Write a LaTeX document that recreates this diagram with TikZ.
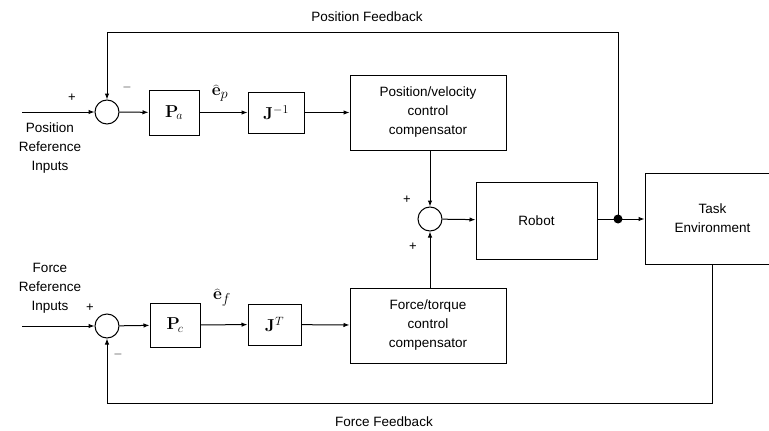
\documentclass[tikz,border=0pt]{standalone}
\usepackage[no-math]{fontspec}
\setmainfont{Liberation Sans}
\usetikzlibrary{arrows.meta}
\begin{document}
\begin{tikzpicture}[x=1pt,y=-1pt,
  font=\fontsize{13.5}{19}\selectfont,
  ln/.style={line width=1pt},
  blk/.style={draw, line width=1pt, inner sep=0pt, align=center},
  mth/.style={font=\fontsize{17}{20}\selectfont},
  sumj/.style={draw, circle, line width=1pt, minimum size=24pt, inner sep=0pt},
  conn/.style={line width=1pt, -{Latex[length=6pt,width=4.5pt]}},
  sgn/.style={font=\fontsize{13}{13}\selectfont, inner sep=0pt}]
\clip (0,0) rectangle (769,431);
\fill[white] (0,0) rectangle (769,431);

% nodes
\node[sumj] (s1) at (107,112) {};
\node[blk, mth, minimum width=50pt, minimum height=45pt] (pa) at (174,112.5) {$\mathbf{P}_{\!a}$};
\node[blk, mth, minimum width=56pt, minimum height=41pt] (ja) at (276,112.5) {$\mathbf{J}^{-1}$};
\node[blk, minimum width=156pt, minimum height=75pt] (pv) at (428,112.5) {Position/velocity\\control\\compensator};
\node[sumj] (s2) at (430,219) {};
\node[blk, minimum width=121pt, minimum height=77pt] (rob) at (536.5,220.5) {Robot};
\node[blk, minimum width=135pt, minimum height=91pt] (task) at (712.5,218.5) {Task\\Environment};
\node[blk, minimum width=156pt, minimum height=75pt] (ft) at (428,325.5) {Force/torque\\control\\compensator};
\node[sumj] (s3) at (107,326) {};
\node[blk, mth, minimum width=50pt, minimum height=44pt] (pc) at (175,325) {$\mathbf{P}_{\!c}$};
\node[blk, mth, minimum width=53pt, minimum height=41pt] (jt) at (274.5,324.5) {$\mathbf{J}^{T}$};

\coordinate (in1) at (22,112);
\coordinate (in3) at (22,326);
\fill (618,219) circle (4.5pt);
\coordinate (dot) at (618,219);
\coordinate (tl) at (107,32);
\coordinate (tr) at (618,32);
\coordinate (bl) at (107,403);

% labels
\node at (50,148) [align=center] {Position\\Reference\\Inputs};
\node at (50,288) [align=center] {Force\\Reference\\Inputs};
\node at (367,17) {Position Feedback};
\node at (384,422) {Force Feedback};
\node[sgn] at (72,98) {+};
\node[sgn] at (127,87) {$-$};
\node[sgn] at (90,308) {+};
\node[sgn] at (118,354) {$-$};
\node[sgn] at (407,200) {+};
\node[sgn] at (413,247) {+};
\node[mth, font=\fontsize{19}{22}\selectfont] at (220,93) {$\widehat{\mathbf{e}}_{p}$};
\node[mth, font=\fontsize{19}{22}\selectfont] at (222,298) {$\widehat{\mathbf{e}}_{f}$};

% connectors
\draw[conn] (in1) -- (s1);
\draw[conn] (s1) -- (pa);
\draw[conn] (pa) -- (ja);
\draw[conn] (ja) -- (pv);
\draw[conn] (pv.south -| s2) -- (s2);
\draw[conn] (s2) -- (rob);
\draw[ln] (rob.east |- dot) -- (dot);
\draw[conn] (dot) -- (task.west |- dot);
\draw[conn] (dot) -- (tr) -- (tl) -- (s1);
\draw[conn] (in3) -- (s3);
\draw[conn] (s3) -- (pc);
\draw[conn] (pc) -- (jt);
\draw[conn] (jt) -- (ft);
\draw[conn] (ft.north -| s2) -- (s2);
\draw[conn] (task.south) -- (task.south |- bl) -- (bl) -- (s3);
\end{tikzpicture}
\end{document}
